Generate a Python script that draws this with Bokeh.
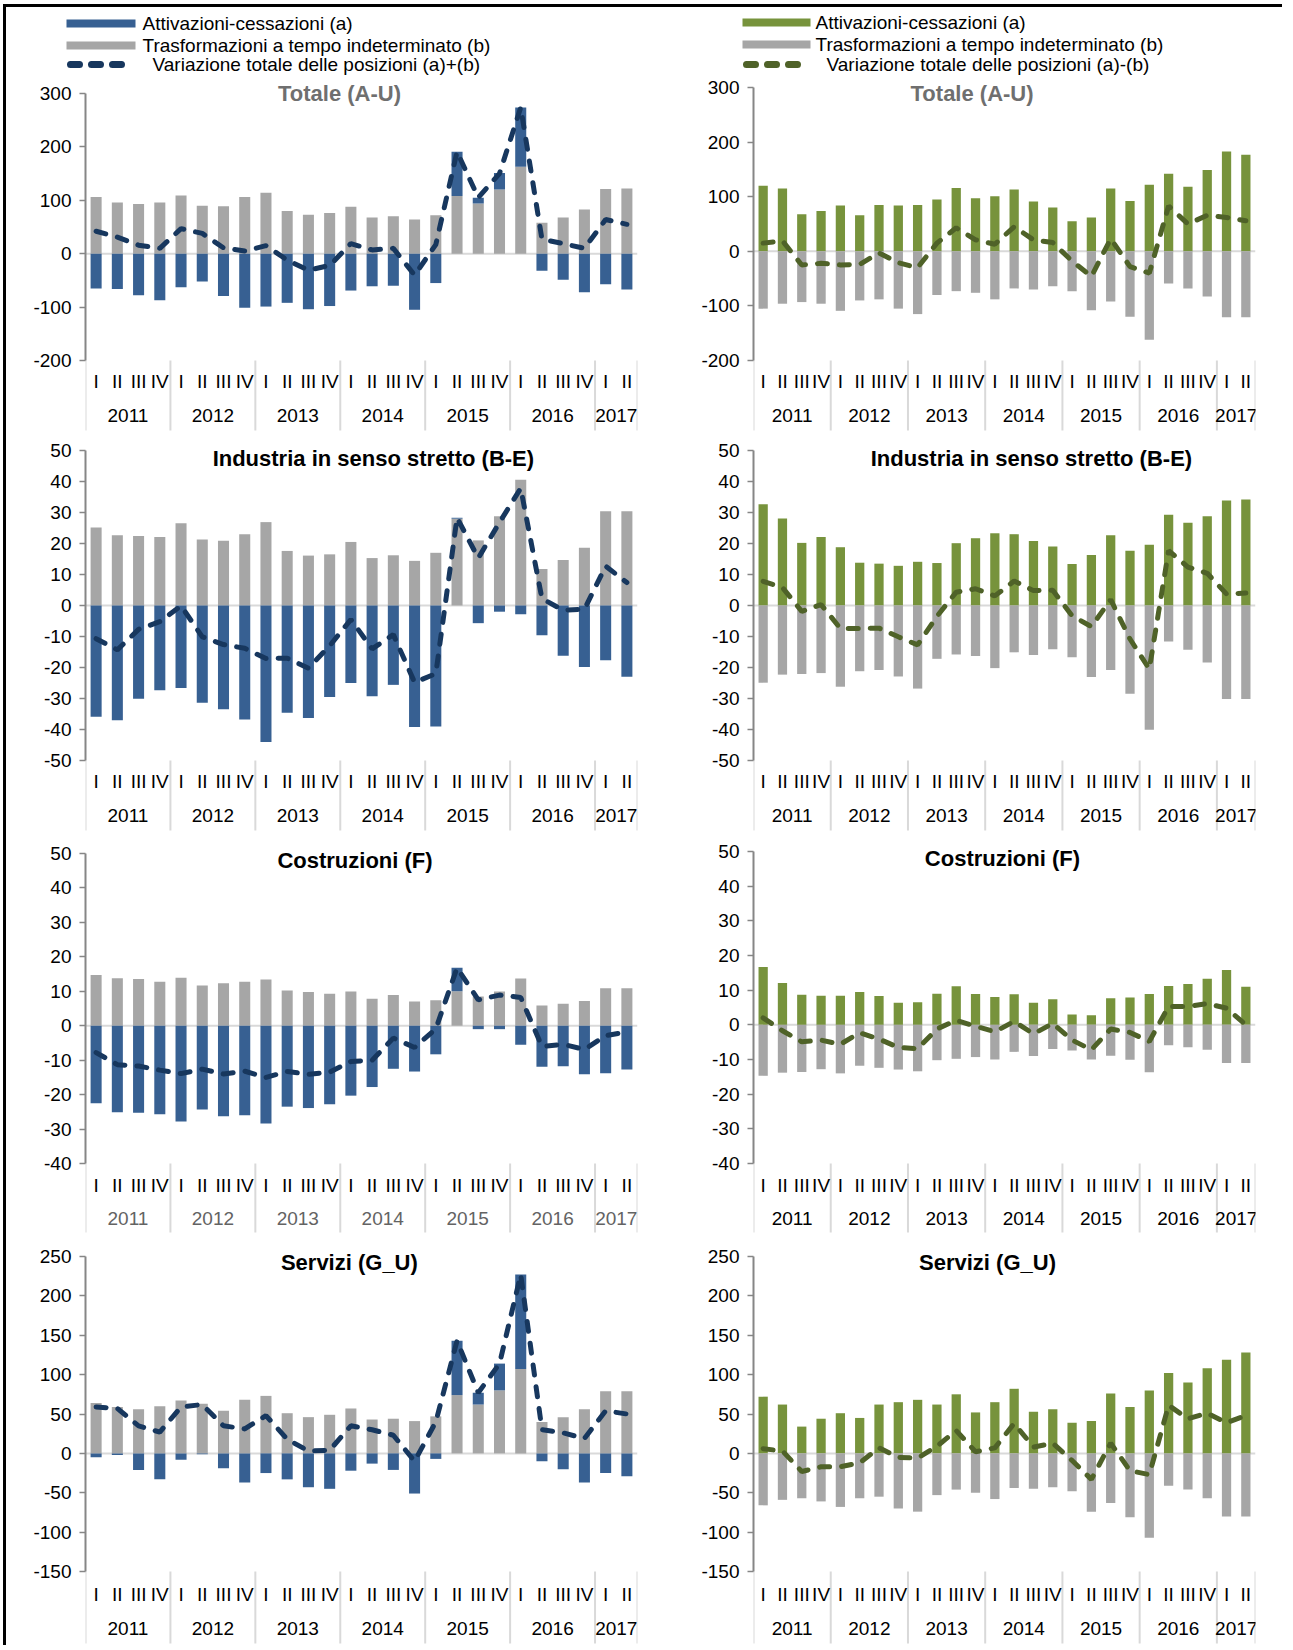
from bokeh.plotting import figure
from bokeh.layouts import column, row
from bokeh.models import Range1d, FixedTicker, Spacer
from bokeh.embed import file_html
from bokeh.resources import INLINE
from bokeh.core.properties import value

FONT = "Liberation Sans"

# ---------------- data ----------------
quarters = ["I", "II", "III", "IV"] * 6 + ["I", "II"]
years = ["2011", "2012", "2013", "2014", "2015", "2016", "2017"]
year_counts = [4, 4, 4, 4, 4, 4, 2]

legend_left = ["Attivazioni-cessazioni (a)", "Trasformazioni a tempo indeterminato (b)",
               "Variazione totale delle posizioni (a)+(b)"]
legend_right = ["Attivazioni-cessazioni (a)", "Trasformazioni a tempo indeterminato (b)",
                "Variazione totale delle posizioni (a)-(b)"]

# Totale (A-U)
tot_L_b = [106, 96, 93, 96, 109, 90, 89, 106, 114, 80, 73, 76, 88, 68, 70, 64, 72, 108, 94, 120, 163, 58, 68, 83, 121, 122]
tot_L_a = [-65, -66, -78, -87, -63, -52, -79, -101, -99, -92, -104, -98, -69, -61, -60, -105, -55, 83, 11, 31, 111, -32, -49, -72, -57, -67]
tot_L_line = [42, 31, 16, 10, 47, 38, 11, 5, 15, -12, -31, -22, 19, 7, 10, -40, 17, 191, 105, 150, 274, 27, 19, 10, 64, 55]
tot_R_a = [120, 115, 68, 74, 84, 66, 85, 84, 85, 95, 116, 97, 101, 113, 91, 80, 55, 62, 115, 92, 122, 142, 118, 149, 183, 177]
tot_R_b = [-105, -96, -93, -96, -109, -90, -88, -105, -115, -80, -73, -76, -88, -68, -70, -64, -73, -108, -92, -120, -162, -59, -68, -83, -121, -121]
tot_R_line = [15, 19, -25, -22, -25, -24, -3, -21, -30, 15, 43, 21, 13, 45, 21, 16, -18, -46, 23, -28, -40, 83, 50, 66, 62, 56]

# Industria in senso stretto (B-E)
ind_L_b = [25.2, 22.7, 22.4, 22.1, 26.5, 21.3, 20.9, 23.0, 26.9, 17.6, 16.1, 16.5, 20.5, 15.3, 16.2, 14.4, 17.0, 28.0, 21.0, 28.8, 40.6, 11.8, 14.7, 18.6, 30.4, 30.4]
ind_L_a = [-35.9, -37.0, -30.1, -27.3, -26.6, -31.4, -33.5, -36.8, -44.0, -34.6, -36.3, -29.5, -25.0, -29.3, -25.6, -39.2, -39.0, 0.3, -5.7, -2.0, -2.8, -9.6, -16.2, -19.8, -17.7, -23.0]
ind_L_line = [-10.7, -14.3, -7.7, -5.2, -0.1, -10.1, -12.6, -13.8, -17.1, -17.0, -20.2, -13.0, -4.5, -14.0, -9.4, -24.8, -22.0, 28.3, 15.3, 26.8, 37.8, 2.2, -1.5, -1.2, 12.7, 7.4]
ind_R_a = [32.7, 28.1, 20.2, 22.1, 18.8, 13.8, 13.5, 12.8, 14.1, 13.7, 20.1, 21.7, 23.3, 23.0, 20.8, 19.0, 13.4, 16.3, 22.7, 17.7, 19.6, 29.3, 26.7, 28.8, 33.9, 34.2]
ind_R_b = [-24.9, -22.3, -22.1, -21.8, -26.2, -21.2, -20.8, -22.9, -26.8, -17.2, -15.8, -16.3, -20.2, -15.1, -16.0, -14.1, -16.7, -23.1, -20.8, -28.5, -40.1, -11.6, -14.3, -18.4, -30.2, -30.2]
ind_R_line = [7.8, 5.8, -1.9, 0.3, -7.4, -7.4, -7.3, -10.1, -12.7, -3.5, 4.3, 5.4, 3.1, 7.9, 4.8, 4.9, -3.3, -6.8, 1.9, -10.8, -20.5, 17.7, 12.4, 10.4, 3.7, 4.0]

# Costruzioni (F)
cos_L_b = [14.7, 13.8, 13.6, 12.8, 13.9, 11.7, 12.3, 12.8, 13.4, 10.2, 9.8, 9.3, 9.9, 7.8, 8.9, 7.0, 7.4, 10.0, 8.5, 9.9, 13.7, 5.9, 6.4, 7.2, 10.9, 10.9]
cos_L_a = [-22.5, -25.1, -25.3, -25.7, -27.8, -24.3, -26.3, -26.0, -28.4, -23.5, -23.9, -22.8, -20.3, -17.8, -12.5, -13.3, -8.3, 6.8, -1.0, -1.0, -5.5, -11.9, -11.8, -14.1, -13.8, -12.7]
cos_L_line = [-7.8, -11.3, -11.7, -12.9, -13.9, -12.6, -14.0, -13.2, -15.0, -13.3, -14.1, -13.5, -10.4, -10.0, -3.6, -6.3, -0.9, 16.8, 7.5, 8.9, 8.2, -6.0, -5.4, -6.9, -2.9, -1.8]
cos_R_a = [16.7, 12.1, 8.7, 8.4, 8.4, 9.5, 8.3, 6.4, 6.5, 9.0, 11.1, 8.9, 8.0, 8.8, 6.4, 7.4, 3.0, 2.8, 7.7, 7.9, 8.9, 11.2, 11.8, 13.3, 15.8, 11.0]
cos_R_b = [-14.7, -13.8, -13.6, -12.8, -14.0, -11.8, -12.4, -12.9, -13.4, -10.2, -9.8, -9.3, -10.0, -7.8, -9.0, -7.0, -7.4, -10.0, -8.9, -10.1, -13.7, -5.9, -6.5, -7.2, -11.0, -11.0]
cos_R_line = [2.0, -1.7, -4.9, -4.4, -5.6, -2.3, -4.1, -6.5, -6.9, -1.2, 1.3, -0.4, -2.0, 1.0, -2.6, 0.4, -4.4, -7.2, -1.2, -2.2, -4.8, 5.3, 5.3, 6.1, 4.8, 0.0]

# Servizi (G_U)
ser_L_b = [64, 59, 56, 60, 67, 63, 54, 68, 73, 51, 46, 49, 57, 43, 44, 41, 47, 74, 62, 80, 107, 40, 46, 56, 79, 79]
ser_L_a = [-5, -2, -21, -33, -8, -1, -19, -37, -25, -33, -43, -45, -22, -13, -21, -51, -7, 69, 15, 34, 120, -10, -20, -37, -25, -29]
ser_L_line = [59, 57, 35, 27, 59, 62, 35, 31, 48, 18, 3, 4, 35, 30, 23, -10, 40, 143, 77, 114, 227, 30, 26, 19, 54, 50]
ser_R_a = [72, 62, 34, 44, 51, 45, 62, 65, 68, 62, 75, 52, 65, 82, 53, 56, 39, 41, 76, 59, 80, 102, 90, 108, 119, 128]
ser_R_b = [-66, -59, -57, -61, -68, -57, -55, -70, -74, -53, -46, -50, -58, -44, -45, -43, -48, -74, -63, -81, -107, -41, -46, -57, -80, -80]
ser_R_line = [6, 3, -23, -17, -17, -12, 7, -5, -6, 9, 29, 2, 7, 38, 8, 13, -9, -33, 13, -22, -27, 61, 44, 51, 39, 48]

titles = ["Totale (A-U)", "Industria in senso stretto (B-E)", "Costruzioni  (F)", "Servizi (G_U)"]
ticks_rows = [[-200, -100, 0, 100, 200, 300],
              [-50, -40, -30, -20, -10, 0, 10, 20, 30, 40, 50],
              [-40, -30, -20, -10, 0, 10, 20, 30, 40, 50],
              [-150, -100, -50, 0, 50, 100, 150, 200, 250]]

# ---------------- style ----------------
BLUE = "#376092"
GRAY = "#a6a6a6"
GREEN = "#77933c"
NAVY = "#17375e"
DKGREEN = "#4f6228"
AXIS = "#868686"
SEP = "#d9d9d9"
LABEL_SIZE = "19px"

# page layout (pixels); content starts at (OX, OY) after the black frame lines
PAD_X, PAD_Y, BORDER = 3, 4, 3
OX, OY = PAD_X + BORDER, PAD_Y + BORDER
X_L = (OX, 662)
X_R = (662, 1282)
LEG_Y = (OY, 78)
ROWS_Y = [(78, 432), (432, 832), (832, 1234), (1234, 1645)]
Q_PY = [381, 781, 1185, 1594]
YR_PY = [415, 815, 1218, 1628]
SEP_PY = [430, 830, 1232, 1643]


def make_panel(title, title_color, first, second, line, c_first, c_second, line_color,
               ticks, py_top, py_bot, ax_x, right_x, title_cx, title_py, xr, yr,
               q_py, yr_py, sep_py, year_color, bar_w):
    x0, x1 = xr
    y0, y1 = yr
    v_top, v_bot = ticks[-1], ticks[0]
    s = (py_bot - py_top) / (v_top - v_bot)

    def v(py):
        return v_top - (py - py_top) / s

    n = len(quarters)
    p = figure(width=x1 - x0, height=y1 - y0, x_range=Range1d(0, n),
               y_range=Range1d(v(y1), v(y0)), output_backend="svg",
               toolbar_location=None, x_axis_location=None,
               min_border_left=ax_x - x0, min_border_right=x1 - right_x,
               min_border_top=0, min_border_bottom=0)
    p.xgrid.visible = False
    p.ygrid.visible = False
    p.outline_line_color = None
    ax = p.yaxis[0]
    ax.ticker = FixedTicker(ticks=ticks)
    ax.major_label_overrides = {t: str(t) for t in ticks}
    ax.bounds = (v_bot, v_top)
    ax.axis_line_color = AXIS
    ax.axis_line_width = 2
    ax.major_tick_line_color = AXIS
    ax.major_tick_line_width = 1.5
    ax.major_tick_out = 6
    ax.major_tick_in = 0
    ax.minor_tick_line_color = None
    ax.major_label_standoff = 8
    ax.major_label_text_font = FONT
    ax.major_label_text_font_size = LABEL_SIZE
    ax.major_label_text_color = "black"

    xs = [i + 0.5 for i in range(n)]

    # zero line
    p.segment(x0=[0], y0=[0], x1=[n], y1=[0], line_color=SEP, line_width=2)

    # stacked bars (positives and negatives stacked separately)
    pos = [0.0] * n
    neg = [0.0] * n
    for vals, color in ((first, c_first), (second, c_second)):
        bottoms, tops = [], []
        for i, val in enumerate(vals):
            if val >= 0:
                bottoms.append(pos[i]); tops.append(pos[i] + val); pos[i] += val
            else:
                bottoms.append(neg[i]); tops.append(neg[i] + val); neg[i] += val
        p.vbar(x=xs, bottom=bottoms, top=tops, width=bar_w, fill_color=color, line_color=None)

    # dashed total line
    p.line(xs, line, line_color=line_color, line_width=5, line_dash="10 12", line_cap="round")

    # category separators
    bounds = [0]
    for c in year_counts:
        bounds.append(bounds[-1] + c)
    p.segment(x0=bounds, y0=[v_bot] * len(bounds), x1=bounds, y1=[v(sep_py)] * len(bounds),
              line_color=SEP, line_width=2)

    # quarter labels and year labels
    p.text(x=xs, y=[v(q_py)] * n, text=quarters, text_align="center", text_baseline="middle",
           text_font=value(FONT), text_font_size=LABEL_SIZE, text_color="black")
    ycent = [(bounds[k] + bounds[k + 1]) / 2 for k in range(len(years))]
    p.text(x=ycent, y=[v(yr_py)] * len(years), text=years, text_align="center",
           text_baseline="middle", text_font=value(FONT), text_font_size=LABEL_SIZE,
           text_color=year_color)

    # title
    tx = (title_cx - ax_x) / (right_x - ax_x) * n
    p.text(x=[tx], y=[v(title_py)], text=[title], text_align="center", text_baseline="middle",
           text_font=value(FONT), text_font_size="22px", text_font_style="bold",
           text_color=title_color)
    return p


left_series = [(tot_L_b, tot_L_a, tot_L_line), (ind_L_b, ind_L_a, ind_L_line),
               (cos_L_b, cos_L_a, cos_L_line), (ser_L_b, ser_L_a, ser_L_line)]
right_series = [(tot_R_a, tot_R_b, tot_R_line), (ind_R_a, ind_R_b, ind_R_line),
                (cos_R_a, cos_R_b, cos_R_line), (ser_R_a, ser_R_b, ser_R_line)]

# per-panel placement: (py_top, py_bot, axis_x, right_x, title_cx, title_py)
left_geo = [(93, 360, 85, 637, 339, 93), (450, 760, 82, 640, 373, 458),
            (853, 1163, 77, 638, 354, 860), (1256, 1571, 77, 646, 349, 1262)]
right_geo = [(87, 360, 752, 1255, 971, 93), (450, 760, 742, 1255, 1026, 458),
             (851, 1163, 739, 1257, 999, 858), (1256, 1571, 753, 1270, 994, 1262)]
title_colors = ["#6f6f6f", "black", "black", "black"]
left_year_colors = ["black", "black", "#636363", "black"]

left_figs, right_figs = [], []
for r in range(4):
    b, a, ln = left_series[r]
    g = left_geo[r]
    left_figs.append(make_panel(titles[r], title_colors[r], b, a, ln, GRAY, BLUE, NAVY,
                                ticks_rows[r], g[0], g[1], g[2], g[3], g[4], g[5], X_L, ROWS_Y[r],
                                Q_PY[r], YR_PY[r], SEP_PY[r], left_year_colors[r], 0.52))
    a2, b2, ln2 = right_series[r]
    g = right_geo[r]
    right_figs.append(make_panel(titles[r], title_colors[r], a2, b2, ln2, GREEN, GRAY, DKGREEN,
                                 ticks_rows[r], g[0], g[1], g[2], g[3], g[4], g[5], X_R, ROWS_Y[r],
                                 Q_PY[r], YR_PY[r], SEP_PY[r], "black", 0.48))

# ---------------- legend strip ----------------
LX0, LX1 = OX, X_R[1]
LY0, LY1 = LEG_Y
leg = figure(width=LX1 - LX0, height=LY1 - LY0, x_range=Range1d(LX0, LX1),
             y_range=Range1d(LY1, LY0), output_backend="svg", toolbar_location=None,
             x_axis_location=None, y_axis_location=None,
             min_border_left=0, min_border_right=0, min_border_top=0, min_border_bottom=0)
leg.xgrid.visible = False
leg.ygrid.visible = False
leg.outline_line_color = None

for (sw0, sw1, dash1, tx, tx3, rows_y, labels, c_a, c_line) in (
        (66, 135, 128, 142, 152, (23, 45, 64), legend_left, BLUE, NAVY),
        (742, 810, 802, 815, 826, (22, 44, 64), legend_right, GREEN, DKGREEN)):
    leg.quad(left=[sw0, sw0], right=[sw1, sw1], top=[rows_y[0] - 4, rows_y[1] - 4],
             bottom=[rows_y[0] + 4, rows_y[1] + 4], fill_color=[c_a, GRAY], line_color=None)
    leg.line([sw0 + 4, dash1], [rows_y[2], rows_y[2]], line_color=c_line, line_width=7,
             line_dash="9 12", line_cap="round")
    leg.text(x=[tx, tx, tx3], y=list(rows_y), text=labels, text_align="left",
             text_baseline="middle", text_font=value(FONT), text_font_size="19px",
             text_color="black")

grid = row(column(*left_figs), column(*right_figs))
content = column(leg, grid)
total_h = (LY1 - LY0) + sum(y1 - y0 for y0, y1 in ROWS_Y)
framed = column(
    Spacer(width=BORDER + (LX1 - LX0), height=BORDER, styles={"background-color": "black"}),
    row(Spacer(width=BORDER, height=total_h, styles={"background-color": "black"}), content),
)
page = column(Spacer(width=10, height=PAD_Y), row(Spacer(width=PAD_X, height=10), framed))

open("out.html", "w").write(file_html(page, INLINE))
